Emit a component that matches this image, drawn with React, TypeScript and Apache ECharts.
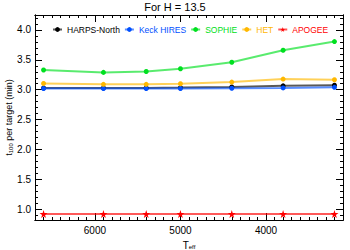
import React, { useEffect, useRef } from "react";
import * as echarts from "echarts";

const teff = [6600, 5900, 5400, 5000, 4400, 3800, 3200];
const harpsNorth = [3.03, 3.03, 3.03, 3.035, 3.045, 3.065, 3.075];
const keckHires = [3.02, 3.02, 3.02, 3.02, 3.025, 3.03, 3.04];
const sophie = [3.33, 3.29, 3.305, 3.35, 3.46, 3.66, 3.805];
const het = [3.105, 3.09, 3.09, 3.1, 3.128, 3.178, 3.167];
const apogee = [0.92, 0.92, 0.92, 0.92, 0.92, 0.92, 0.92];

const xMajorTicks = [4000, 5000, 6000];
const yMajorTicks = [1.0, 1.5, 2.0, 2.5, 3.0, 3.5, 4.0];
const X_MIN = 3100;
const X_MAX = 6700;
const Y_MIN = 0.82;
const Y_MAX = 4.25;

const xMinorTicks: number[] = [];
for (let v = X_MIN; v <= X_MAX; v += 100) xMinorTicks.push(v);
const yMinorTicks: number[] = [];
for (let i = 9; i <= 42; i++) yMinorTicks.push(i / 10);

const FONT = "Liberation Sans";
const STAR = "path://M50,0 L61,35 L98,35 L68,57 L79,91 L50,70 L21,91 L32,57 L2,35 L39,35 Z";

export default function App() {
  const ref = useRef<HTMLDivElement>(null);
  useEffect(() => {
    if (!ref.current) return;
    const chart = echarts.init(ref.current, null, { renderer: "svg" });
    const mkX = (pos: "top" | "bottom", major: boolean, labels: boolean, name: boolean) => ({
      type: "value",
      position: pos,
      min: X_MIN,
      max: X_MAX,
      inverse: true,
      gridIndex: 0,
      axisLine: { show: true, lineStyle: { color: "#000", width: 1 } },
      axisTick: {
        show: true,
        inside: true,
        length: major ? 7 : 3,
        customValues: major ? xMajorTicks : xMinorTicks,
        lineStyle: { color: "#000", width: 1 },
      },
      axisLabel: {
        show: labels,
        customValues: xMajorTicks,
        color: "#000",
        fontSize: 10,
        fontFamily: FONT,
        margin: 5,
        formatter: (v: number) => String(Math.round(v)),
      },
      splitLine: { show: false },
      name: name ? "{t|T}{s|eff}" : "",
      nameLocation: "middle",
      nameGap: 20,
      nameMoveOverlap: false,
      nameTextStyle: {
        rich: {
          t: { fontSize: 10, fontFamily: FONT, color: "#000" },
          s: { fontSize: 6, fontFamily: FONT, color: "#000", padding: [4, 0, 0, 0] },
        },
      },
    });
    const mkY = (pos: "left" | "right", major: boolean, labels: boolean, name: boolean) => ({
      type: "value",
      position: pos,
      min: Y_MIN,
      max: Y_MAX,
      gridIndex: 0,
      axisLine: { show: true, lineStyle: { color: "#000", width: 1 } },
      axisTick: {
        show: true,
        inside: true,
        length: major ? 7 : 3,
        customValues: major ? yMajorTicks : yMinorTicks,
        lineStyle: { color: "#000", width: 1 },
      },
      axisLabel: {
        show: labels,
        customValues: yMajorTicks,
        color: "#000",
        fontSize: 10,
        fontFamily: FONT,
        margin: 4,
        formatter: (v: number) => v.toFixed(1),
      },
      splitLine: { show: false },
      name: name ? "{t|t}{s|100}{t| per target (min)}" : "",
      nameLocation: "middle",
      nameRotate: 90,
      nameGap: 21,
      nameMoveOverlap: false,
      nameTextStyle: {
        rich: {
          t: { fontSize: 9, fontFamily: FONT, color: "#000" },
          s: { fontSize: 6, fontFamily: FONT, color: "#000", padding: [4, 0, 0, 0] },
        },
      },
    });

    const mkSeries = (name: string, data: number[], color: string, symbol: string, size: number) => ({
      name,
      type: "line",
      xAxisIndex: 0,
      yAxisIndex: 0,
      data: teff.map((t, i) => [t, data[i]]),
      symbol,
      symbolSize: size,
      showAllSymbol: true,
      itemStyle: { color },
      lineStyle: { color, width: 2, opacity: 0.65 },
      emphasis: { disabled: true },
    });

    chart.setOption({
      animation: false,
      title: {
        text: "For H = 13.5",
        left: "center",
        top: 1,
        padding: 0,
        textStyle: {
          fontSize: 11,
          fontWeight: "normal",
          fontFamily: "'Liberation Sans Narrow', 'Liberation Sans'",
          color: "#000",
        },
      },
      grid: { left: 35, right: 7, top: 15, bottom: 30, containLabel: false, outerBoundsMode: "none" },
      legend: {
        top: 25,
        left: 52,
        width: 340,
        padding: 0,
        itemWidth: 9,
        itemHeight: 6,
        itemGap: 4,
        textStyle: { fontSize: 8.5, fontFamily: FONT },
        data: [
          { name: "HARPS-North", textStyle: { color: "#000" } },
          { name: "Keck HIRES", textStyle: { color: "#0050ff" } },
          { name: "SOPHIE", textStyle: { color: "#00e020" } },
          { name: "HET", textStyle: { color: "#ffb800" } },
          { name: "APOGEE", textStyle: { color: "#ff0000" } },
        ],
      },
      xAxis: [
        mkX("bottom", false, true, true),
        mkX("bottom", true, false, false),
        mkX("top", false, false, false),
        mkX("top", true, false, false),
      ],
      yAxis: [
        mkY("left", false, true, true),
        mkY("left", true, false, false),
        mkY("right", false, false, false),
        mkY("right", true, false, false),
      ],
      series: [
        mkSeries("HARPS-North", harpsNorth, "#000000", "circle", 5),
        mkSeries("Keck HIRES", keckHires, "#0050ff", "circle", 5),
        mkSeries("SOPHIE", sophie, "#00e020", "circle", 5),
        mkSeries("HET", het, "#ffb800", "circle", 5),
        mkSeries("APOGEE", apogee, "#ff0000", STAR, 8),
      ],
    });
    return () => chart.dispose();
  }, []);
  return <div ref={ref} style={{ width: 350, height: 250, position: "absolute", left: 0, top: 0 }} />;
}
